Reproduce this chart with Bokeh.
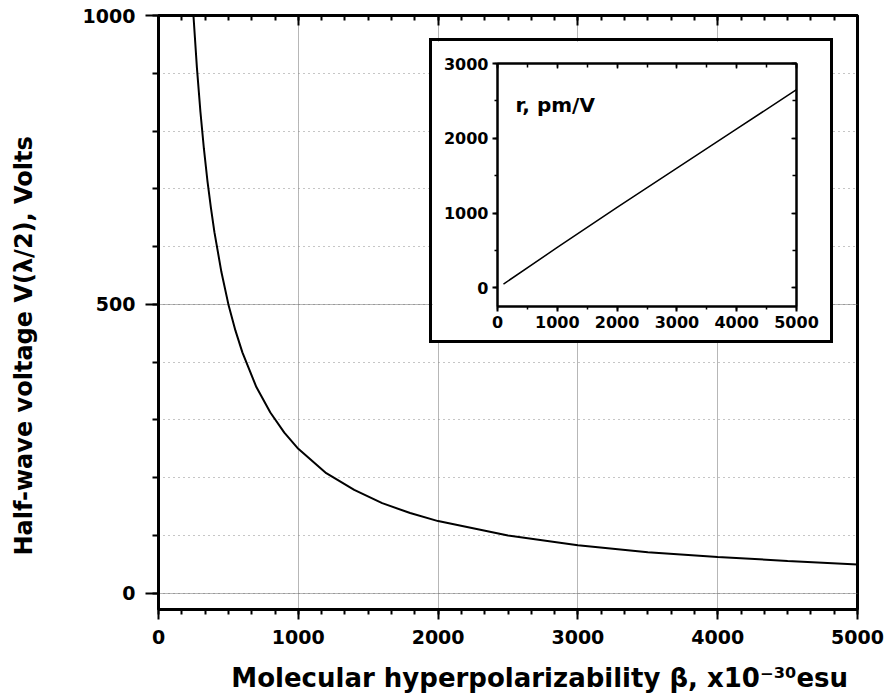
from bokeh.plotting import figure
from bokeh.models import (Range1d, LinearAxis, SingleIntervalTicker, Label,
                          CustomLabelingPolicy, GridBox, Spacer)
from bokeh.embed import file_html
from bokeh.resources import INLINE

# ---- data ----
beta = [250, 275, 300, 325, 350, 375, 400, 450, 500, 550, 600, 700, 800, 900, 1000,
        1200, 1400, 1600, 1800, 2000, 2500, 3000, 3500, 4000, 4500, 5000]
v_half = [1000, 909, 833, 769, 714, 667, 625, 556, 500, 455, 417, 357, 313, 278, 250,
          208, 179, 156, 139, 125, 100, 83, 71, 63, 56, 50]
inset_beta = [100, 1000, 2000, 3000, 4000, 5000]
inset_r = [50, 540, 1075, 1600, 2125, 2650]
x_title = "Molecular hyperpolarizability \u03b2, x10\u207b\u00b3\u2070esu"
y_title = "Half-wave voltage V(\u03bb/2), Volts"
inset_title = "r, pm/V"

FONT = "DejaVu Sans"
NBSP = "\u00a0"
W, H = 885, 698
IW, IH = 404, 305          # inset size (incl. its 3px border)
IX, IY = 429, 38           # inset position on the page


def hide_labels(ax):
    ax.major_label_policy = CustomLabelingPolicy(
        code="for (const i of Array.from(indices)) { indices.unset(i) }\nreturn indices")
    ax.major_label_text_font_size = "0px"
    ax.major_label_standoff = 0


# ---- main figure ----
p = figure(width=W, height=H, x_range=Range1d(0, 5000), y_range=Range1d(-28, 1000),
           output_backend="svg", toolbar_location=None,
           min_border_left=158, min_border_right=28, min_border_top=15, min_border_bottom=89)
p.background_fill_color = "white"
p.border_fill_color = "white"
p.outline_line_color = "black"
p.outline_line_width = 3

p.xaxis.ticker = SingleIntervalTicker(interval=1000, num_minor_ticks=6)
p.yaxis.ticker = SingleIntervalTicker(interval=500, num_minor_ticks=5)

for ax in (p.xaxis[0], p.yaxis[0]):
    ax.axis_line_width = 3
    ax.major_tick_line_width = 2
    ax.minor_tick_line_width = 2
    ax.major_tick_in = 0
    ax.minor_tick_in = 0
    ax.major_label_text_font = FONT
    ax.major_label_text_font_style = "bold"
    ax.major_label_text_font_size = "19px"
    ax.major_label_text_color = "black"
    ax.axis_label_text_font = FONT
    ax.axis_label_text_font_style = "bold"
    ax.axis_label_text_color = "black"
p.xaxis.major_tick_out = 10
p.xaxis.minor_tick_out = 5
p.xaxis.major_label_standoff = 10
p.xaxis.axis_label = NBSP * 7 + x_title
p.xaxis.axis_label_text_font_size = "26px"
p.xaxis.axis_label_standoff = 16
p.yaxis.major_tick_out = 13
p.yaxis.minor_tick_out = 6
p.yaxis.major_label_standoff = 10
p.yaxis.axis_label = y_title + NBSP * 8
p.yaxis.axis_label_text_font_size = "24px"
p.yaxis.axis_label_standoff = 42

top_ax = LinearAxis(ticker=SingleIntervalTicker(interval=1000, num_minor_ticks=6))
top_ax.axis_line_width = 3
top_ax.major_tick_in = 10
top_ax.major_tick_out = 0
top_ax.minor_tick_in = 5
top_ax.minor_tick_out = 0
top_ax.major_tick_line_width = 2
top_ax.minor_tick_line_width = 2
hide_labels(top_ax)
p.add_layout(top_ax, "above")

p.xgrid.grid_line_color = "#6e6e6e"
p.xgrid.grid_line_dash = "1 1"
p.ygrid.grid_line_color = "#6e6e6e"
p.ygrid.grid_line_dash = "1 1"
p.ygrid.minor_grid_line_color = "#8c8c8c"
p.ygrid.minor_grid_line_dash = "1 4"

p.line(beta, v_half, line_color="black", line_width=2)

# ---- inset figure ----
ins = figure(width=IW, height=IH, x_range=Range1d(0, 5000), y_range=Range1d(-250, 3000),
             output_backend="svg", toolbar_location=None,
             min_border_left=65, min_border_right=40, min_border_top=22, min_border_bottom=40)
ins.background_fill_color = "white"
ins.border_fill_color = "white"
ins.outline_line_color = "black"
ins.outline_line_width = 2
ins.grid.visible = False
ins.xaxis.ticker = SingleIntervalTicker(interval=1000, num_minor_ticks=2)
ins.yaxis.ticker = SingleIntervalTicker(interval=1000, num_minor_ticks=2)
for ax in (ins.xaxis[0], ins.yaxis[0]):
    ax.axis_line_width = 2
    ax.major_tick_line_width = 2
    ax.minor_tick_line_width = 1.5
    ax.major_tick_in = 0
    ax.minor_tick_in = 0
    ax.major_tick_out = 5
    ax.minor_tick_out = 3
    ax.major_label_standoff = 4
    ax.major_label_text_font = FONT
    ax.major_label_text_font_style = "bold"
    ax.major_label_text_font_size = "16px"
    ax.major_label_text_color = "black"

ins_top = LinearAxis(ticker=SingleIntervalTicker(interval=1000, num_minor_ticks=2))
ins_right = LinearAxis(ticker=SingleIntervalTicker(interval=1000, num_minor_ticks=2))
for ax in (ins_top, ins_right):
    ax.axis_line_width = 2
    ax.major_tick_in = 5
    ax.major_tick_out = 0
    ax.minor_tick_in = 4
    ax.minor_tick_out = 0
    ax.major_tick_line_width = 1.5
    ax.minor_tick_line_width = 1.5
    hide_labels(ax)
ins.add_layout(ins_top, "above")
ins.add_layout(ins_right, "right")

ins.line(inset_beta, inset_r, line_color="black", line_width=1.5)
ins.add_layout(Label(x=300, y=2450, text=inset_title, text_align="left",
                     text_baseline="alphabetic", text_font=FONT, text_font_size="20px",
                     text_font_style="bold", text_color="black"))

ins.styles = {"border": "3px solid black"}

# main plot spans a 3x3 grid; the inset sits in the middle cell, spacers fix the cell sizes
layout = GridBox(children=[
    (p, 0, 0, 3, 3),
    (Spacer(width=IX, height=IY), 0, 0),
    (ins, 1, 1),
    (Spacer(width=W - IX - IW, height=H - IY - IH), 2, 2),
])

open("out.html", "w").write(file_html(layout, INLINE))
